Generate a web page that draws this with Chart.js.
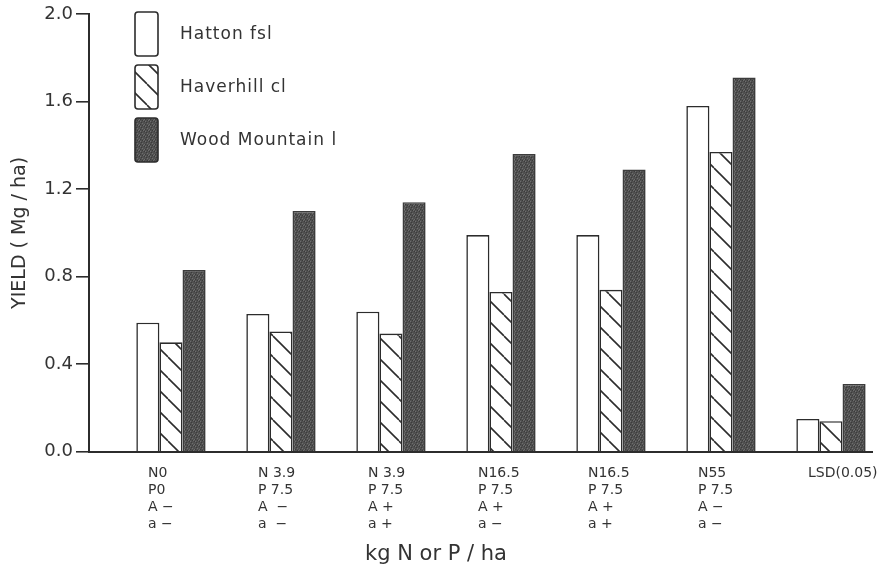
<!DOCTYPE html>
<html>
<head>
<meta charset="utf-8">
<script src="https://cdn.jsdelivr.net/npm/chart.js@4/dist/chart.umd.min.js"></script>
<style>
  html, body { margin: 0; padding: 0; background: #fff; }
  #wrap { width: 881px; height: 575px; }
</style>
</head>
<body>
<div id="wrap"><canvas id="c" width="881" height="575"></canvas></div>
<script>
// Treatment labels (one array of lines per group)
const treatments = [
  ['N0', 'P0', 'A −', 'a −'],
  ['N 3.9', 'P 7.5', 'A  −', 'a  −'],
  ['N 3.9', 'P 7.5', 'A +', 'a +'],
  ['N16.5', 'P 7.5', 'A +', 'a −'],
  ['N16.5', 'P 7.5', 'A +', 'a +'],
  ['N55', 'P 7.5', 'A −', 'a −'],
  ['LSD(0.05)']
];

// Yield, Mg/ha
const hatton       = [0.59, 0.63, 0.64, 0.99, 0.99, 1.58, 0.15];
const haverhill    = [0.50, 0.55, 0.54, 0.73, 0.74, 1.37, 0.14];
const woodMountain = [0.83, 1.10, 1.14, 1.36, 1.29, 1.71, 0.31];

const yTicks = [0, 0.4, 0.8, 1.2, 1.6, 2.0];

const INK = '#2c2c2c';
const TEXT = '#333333';
const FONT = '"DejaVu Sans", "Liberation Sans", sans-serif';

// Diagonal hatch fill
function makeHatch() {
  const s = 21;
  const c = document.createElement('canvas');
  c.width = s; c.height = s;
  const g = c.getContext('2d');
  g.fillStyle = '#ffffff';
  g.fillRect(0, 0, s, s);
  g.strokeStyle = INK;
  g.lineWidth = 1.6;
  for (const o of [-s, 0, s]) {
    g.beginPath();
    g.moveTo(o, 0);
    g.lineTo(o + s, s);
    g.stroke();
  }
  return g.createPattern(c, 'repeat');
}

// Fine stipple fill for the dark bars
function makeStipple() {
  const s = 5;
  const c = document.createElement('canvas');
  c.width = s; c.height = s;
  const g = c.getContext('2d');
  g.fillStyle = '#505050';
  g.fillRect(0, 0, s, s);
  g.fillStyle = '#6e6e6e';
  [[0, 1], [3, 0], [2, 3], [4, 4]].forEach(([x, y]) => g.fillRect(x, y, 1, 1));
  g.fillStyle = '#3a3a3a';
  [[1, 2], [4, 1], [0, 4], [2, 0]].forEach(([x, y]) => g.fillRect(x, y, 1, 1));
  return g.createPattern(c, 'repeat');
}

const toPoints = arr => arr.map((v, i) => ({ x: i, y: v }));

// Stacked boxes-and-labels key in the upper-left of the plot
const boxKey = {
  id: 'boxKey',
  afterDatasetsDraw(chart, args, opts) {
    const ctx = chart.ctx;
    ctx.save();
    chart.data.datasets.forEach((ds, i) => {
      const x = opts.x, y = opts.y + i * opts.step;
      ctx.beginPath();
      ctx.roundRect(x, y, opts.w, opts.h, 3);
      ctx.fillStyle = ds.backgroundColor;
      ctx.fill();
      ctx.lineWidth = 1.6;
      ctx.strokeStyle = INK;
      ctx.stroke();
      ctx.font = '17px ' + FONT;
      ctx.letterSpacing = '1px';
      ctx.fillStyle = TEXT;
      ctx.textAlign = 'left';
      ctx.textBaseline = 'middle';
      ctx.fillText(ds.label, opts.textX, y + opts.h / 2 + 1);
    });
    ctx.restore();
  }
};

const whiteBg = {
  id: 'whiteBg',
  beforeDraw(chart) {
    const ctx = chart.ctx;
    ctx.save();
    ctx.fillStyle = '#ffffff';
    ctx.fillRect(0, 0, chart.width, chart.height);
    ctx.restore();
  }
};

const common = { borderColor: INK, borderWidth: 1.6, borderSkipped: 'bottom', barPercentage: 1.0, categoryPercentage: 0.63 };

new Chart(document.getElementById('c'), {
  type: 'bar',
  data: {
    datasets: [
      { label: 'Hatton fsl', data: toPoints(hatton), backgroundColor: '#ffffff', ...common },
      { label: 'Haverhill cl', data: toPoints(haverhill), backgroundColor: makeHatch(), ...common },
      { label: 'Wood Mountain l', data: toPoints(woodMountain), backgroundColor: makeStipple(), ...common, borderColor: '#3c3c3c' }
    ]
  },
  options: {
    responsive: false,
    animation: false,
    devicePixelRatio: 1,
    layout: { padding: { top: 14, right: 9, left: 0, bottom: 0 } },
    scales: {
      x: {
        type: 'linear',
        offset: false,
        bounds: 'data',
        min: -0.745,
        max: 6.373,
        grid: { display: false, offset: false },
        border: { display: true, color: INK, width: 2 },
        afterBuildTicks: s => { s.ticks = treatments.map((_, i) => ({ value: i })); },
        afterFit: s => { s.height = 90; s.paddingLeft = 0; s.paddingRight = 0; },
        ticks: {
          autoSkip: false,
          maxRotation: 0,
          minRotation: 0,
          align: 'start',
          labelOffset: -23,
          padding: 5,
          color: TEXT,
          font: { family: FONT, size: 14, lineHeight: '17px' },
          callback: v => treatments[v]
        }
      },
      y: {
        min: 0,
        max: 2.0,
        afterBuildTicks: s => { s.ticks = yTicks.map(v => ({ value: v })); },
        afterFit: s => { s.width = 89; },
        grid: { drawOnChartArea: false, drawTicks: true, tickLength: 13, color: INK, lineWidth: 1.6 },
        border: { display: true, color: INK, width: 2 },
        ticks: {
          padding: 3,
          color: TEXT,
          font: { family: FONT, size: 18 },
          callback: v => Number(v).toFixed(1)
        },
        title: {
          display: true,
          text: 'YIELD ( Mg / ha)',
          color: TEXT,
          font: { family: FONT, size: 19 },
          padding: { top: 9, bottom: 0 }
        }
      }
    },
    plugins: {
      legend: { display: false },
      tooltip: { enabled: false },
      title: {
        display: true,
        position: 'bottom',
        text: 'kg N or P / ha',
        color: TEXT,
        font: { family: FONT, size: 21, weight: 'normal' },
        padding: { top: 0, bottom: 8 }
      },
      boxKey: { x: 135, y: 12, w: 23, h: 44, step: 53, textX: 180 }
    }
  },
  plugins: [whiteBg, boxKey]
});
</script>
</body>
</html>
